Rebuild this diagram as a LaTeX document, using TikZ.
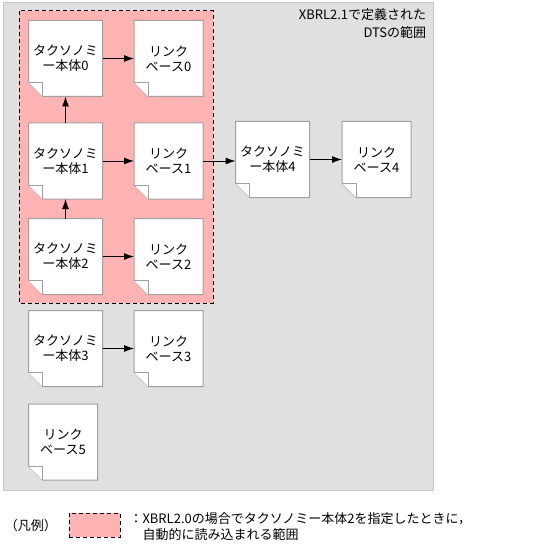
\documentclass[tikz,border=0pt]{standalone}
\usepackage{fontspec}
\setmainfont{Noto Sans CJK JP}
\usetikzlibrary{arrows.meta,backgrounds}
\definecolor{dtsbg}{RGB}{224,224,224}
\definecolor{dtsline}{RGB}{200,200,200}
\definecolor{autoload}{RGB}{255,179,179}
\definecolor{pageline}{RGB}{160,160,160}
\tikzset{
  every picture/.style={line width=1pt, >={Latex[length=10pt,width=7pt]}},
  every node/.style={font=\fontsize{13}{15}\selectfont},
  % ページ（文書）
  pagebox/.style={inner sep=0pt, align=center, minimum height=75pt},
  taxbox/.style={pagebox, minimum width=73pt},
  linkbox/.style={pagebox, minimum width=68pt},
  pageshape/.style={fill=white, draw=pageline, line width=1pt},
  % 範囲
  dtsarea/.style={fill=dtsbg, draw=dtsline, line width=1pt},
  autoarea/.style={fill=autoload, draw=black, line width=1pt, dash pattern=on 4pt off 3pt},
  flow/.style={->, line width=1pt},
}

\begin{document}
\begin{tikzpicture}[x=1pt, y=-1pt]
  \useasboundingbox (0,0) rectangle (537,559);
  % 文書
  \node[taxbox] (tax0) at (65.5,58.5) {タクソノミ\\ー本体0};
  \node[linkbox] (link0) at (168.5,58.5) {リンク\\ベース0};
  \node[taxbox] (tax1) at (65.5,161) {タクソノミ\\ー本体1};
  \node[linkbox] (link1) at (168.5,161) {リンク\\ベース1};
  \node[taxbox] (tax2) at (65.5,256.5) {タクソノミ\\ー本体2};
  \node[linkbox] (link2) at (168.5,256.5) {リンク\\ベース2};
  \node[taxbox] (tax3) at (65.5,348.5) {タクソノミ\\ー本体3};
  \node[linkbox] (link3) at (168.5,348.5) {リンク\\ベース3};
  \node[taxbox] (tax4) at (272.5,159.5) {タクソノミ\\ー本体4};
  \node[linkbox] (link4) at (376.5,159.5) {リンク\\ベース4};
  \node[linkbox] (link5) at (63,442) {リンク\\ベース5};
  % 参照
  \draw[flow] (tax0) -- (link0);
  \draw[flow] (tax1) -- (link1);
  \draw[flow] (tax2) -- (link2);
  \draw[flow] (tax3) -- (link3);
  \draw[flow] (tax1.north) -- (tax0.south);
  \draw[flow] (tax2.north) -- (tax1.south);
  \draw[flow] (link1.east) -- (link1.east -| tax4.west);
  \draw[flow] (tax4.east) -- (link4.west);
  % ラベル
  \node[anchor=north east, align=right, font=\fontsize{13}{18}\selectfont] (dtslabel) at (430,5)
    {XBRL2.1で定義された\\DTSの範囲};
  % 凡例
  \node (legtitle) at (31,526) {（凡例）};
  \node[autoarea, minimum width=51pt, minimum height=24pt, inner sep=0pt] (legbox) at (94.5,525) {};
  \node[anchor=north west, align=left, inner sep=0pt, font=\fontsize{13}{16}\selectfont] (legtext) at (129,512)
    {：XBRL2.0の場合でタクソノミー本体2を指定したときに，\\　自動的に読み込まれる範囲};
  % 背景：DTS範囲、自動読込範囲、ページの形
  \begin{scope}[on background layer]
    \path[dtsarea] (3,3) rectangle (433,490);
    \path[autoarea] (19,11) rectangle (213,303);
    \foreach \n in {tax0,link0,tax1,link1,tax2,link2,tax3,link3,tax4,link4,link5} {
      \path[pageshape] (\n.north west) -- (\n.north east) -- (\n.south east)
        -- ([xshift=14pt]\n.south west) -- ([yshift=14pt]\n.south west) -- cycle;
      \path[pageshape] ([yshift=14pt]\n.south west) -- ([xshift=14pt,yshift=14pt]\n.south west)
        -- ([xshift=14pt]\n.south west);
    }
  \end{scope}
\end{tikzpicture}
\end{document}
